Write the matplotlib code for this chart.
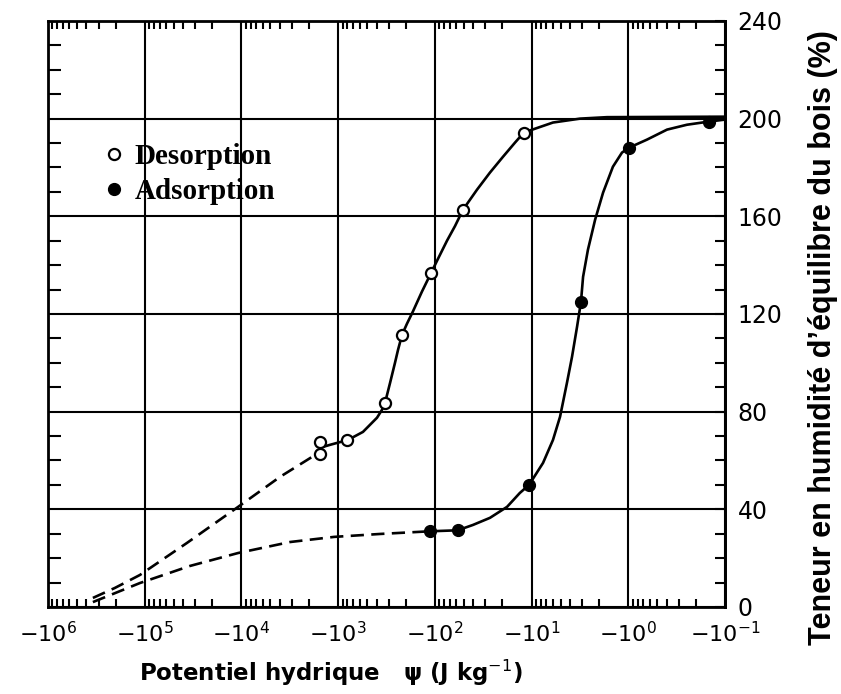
import numpy as np
import matplotlib
matplotlib.use("Agg")
import matplotlib.pyplot as plt
from matplotlib.ticker import FixedLocator, FuncFormatter, NullFormatter

# measured points, psi given as |psi| in J/kg, water content in %
desPsi = [1540, 1540, 800, 327, 218, 109, 51.1, 12.0]
desW = [67.6, 62.5, 68.4, 83.6, 111.5, 136.9, 162.7, 194.3]
adsPsi = [112, 58, 10.6, 3.08, 0.98, 0.146]
adsW = [31.0, 31.4, 50.0, 125.0, 188.1, 198.8]

# curves
desDashPsi = [3.43e5, 2.03e5, 1.12e5, 3.66e4, 1.08e4, 3.98e3, 2.09e3, 1.54e3]
desDashW = [3.7, 7.8, 13.1, 26.2, 41.0, 53.3, 60.2, 63.5]
desLinePsi = [1540, 1213, 791, 553, 396, 352, 327, 290, 258, 240, 218, 194, 168, 136, 109,
              94.8, 74.8, 61.8, 51.1, 36.6, 26.9, 19.7, 14.8, 12.0, 6.0, 3.15, 1.66, 0.1]
desLineW = [65.2, 66.4, 68.4, 71.7, 77.5, 80.7, 83.6, 91.8, 100.0, 105.3, 111.5, 116.0, 121.1, 129.1, 136.9,
            141.8, 150.0, 156.0, 162.7, 170.9, 177.9, 184.4, 190.2, 194.3, 198.4, 200.0, 200.6, 200.8]
adsDashPsi = [3.43e5, 1.12e5, 3.4e4, 1.08e4, 3.14e3, 1.10e3, 369, 112]
adsDashW = [2.0, 9.8, 16.8, 22.1, 26.6, 28.7, 29.9, 31.0]
adsLinePsi = [112, 58, 40.3, 26.9, 17.9, 13.2, 10.6, 7.6, 6.0, 5.07, 4.30, 3.81, 3.38, 3.08, 2.93,
              2.61, 2.20, 1.82, 1.44, 1.16, 0.98, 0.64, 0.397, 0.247, 0.146, 0.1]
adsLineW = [31.0, 31.4, 33.6, 36.5, 41.0, 46.7, 50.0, 59.0, 68.4, 77.9, 91.8, 102.5, 114.8, 125.0, 135.2,
            146.3, 158.6, 169.7, 180.3, 186.1, 188.1, 191.4, 195.5, 197.5, 198.8, 199.6]

decades = [6, 5, 4, 3, 2, 1, 0, -1]
yMajor = [0, 40, 80, 120, 160, 200, 240]

fig = plt.figure(figsize=(8.41, 6.94), dpi=100)
ax = fig.add_axes([0.057, 0.1254, 0.805, 0.8444])

lw = 1.9
dash = (0, (5, 2.8))
ax.plot(desDashPsi, desDashW, color="black", lw=lw, ls=dash, zorder=3)
ax.plot(desLinePsi, desLineW, color="black", lw=lw, zorder=3, solid_joinstyle="round")
ax.plot(adsDashPsi, adsDashW, color="black", lw=lw, ls=dash, zorder=3)
ax.plot(adsLinePsi, adsLineW, color="black", lw=lw, zorder=3, solid_joinstyle="round")

hDes, = ax.plot(desPsi, desW, ls="none", marker="o", ms=8, mfc="white", mec="black", mew=1.6, zorder=4)
hAds, = ax.plot(adsPsi, adsW, ls="none", marker="o", ms=8.5, mfc="black", mec="black", zorder=4)

ax.set_xscale("log")
ax.set_xlim(1e6, 1e-1)
ax.set_ylim(0, 240)

ax.xaxis.set_major_locator(FixedLocator([10.0 ** d for d in decades]))
ax.xaxis.set_major_formatter(FuncFormatter(lambda v, p: r"$-10^{%d}$" % round(np.log10(v))))
minor = [m * 10.0 ** d for d in decades[1:] for m in range(2, 10)]
ax.xaxis.set_minor_locator(FixedLocator(minor))
ax.xaxis.set_minor_formatter(NullFormatter())
ax.yaxis.set_major_locator(FixedLocator(yMajor))
ax.yaxis.set_minor_locator(FixedLocator(range(0, 241, 10)))

ax.grid(which="major", color="black", lw=1.5)
ax.tick_params(axis="x", which="both", direction="in", top=True, bottom=True, width=1.5, labelsize=16, pad=10)
ax.tick_params(axis="x", which="major", length=0)
ax.tick_params(axis="x", which="minor", length=6)
ax.tick_params(axis="y", which="both", direction="in", left=True, right=False, labelleft=False, width=1.5)
ax.tick_params(axis="y", which="minor", length=9.5)
ax.tick_params(axis="y", which="major", length=0)
for s in ax.spines.values():
    s.set_linewidth(2)

sec = ax.secondary_yaxis("right")
sec.yaxis.set_major_locator(FixedLocator(yMajor))
sec.yaxis.set_minor_locator(FixedLocator(range(0, 241, 10)))
sec.tick_params(which="both", direction="in", width=1.5, length=7, labelsize=17, pad=9)
sec.spines["right"].set_linewidth(2)

ax.set_xlabel("Potentiel hydrique   ψ (J kg$^{-1}$)", fontsize=16.5, fontweight="bold")
ax.xaxis.set_label_coords(0.418, -0.087)

fig.text(0.979, 0.514, "Teneur en humidité d’équilibre du bois (%)", rotation=90,
         ha="center", va="center", fontsize=22, fontweight="bold", family="Liberation Sans")

ax.legend([hDes, hAds], ["Desorption", "Adsorption"], loc="upper left",
          bbox_to_anchor=(0.068, 0.812), frameon=False, handlelength=0.6, handletextpad=0.4,
          labelspacing=0.28, borderaxespad=0,
          prop={"family": "Liberation Serif", "weight": "bold", "size": 21})

fig.savefig("out.png", dpi=100)
